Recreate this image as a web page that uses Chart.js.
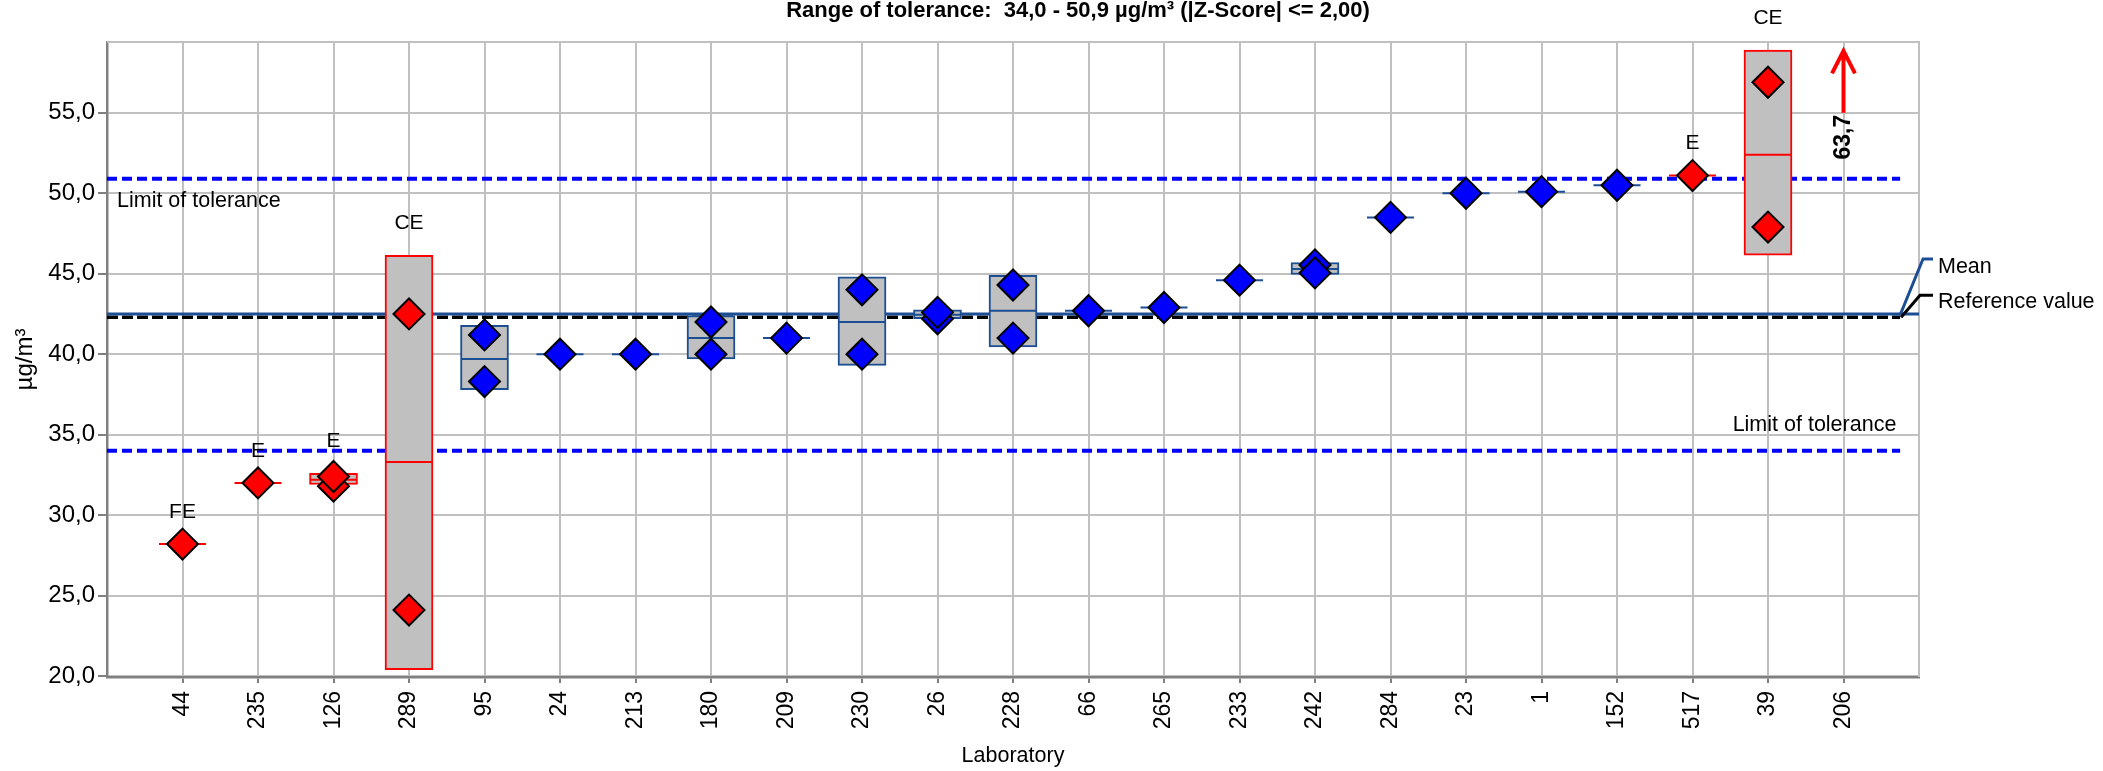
<!DOCTYPE html>
<html>
<head>
<meta charset="utf-8">
<title>Range of tolerance</title>
<script src="https://cdn.jsdelivr.net/npm/chart.js@4.4.1/dist/chart.umd.min.js"></script>
<style>
  html, body { margin: 0; padding: 0; background: #fff; }
  #wrap { width: 2103px; height: 771px; }
</style>
</head>
<body>
<div id="wrap"><canvas id="chart" width="2103" height="771"></canvas></div>
<script>
// --- data ---
const labs = ['44', '235', '126', '289', '95', '24', '213', '180', '209', '230', '26', '228',
              '66', '265', '233', '242', '284', '23', '1', '152', '517', '39', '206'];
// single results per lab (null = no second result)
const result1 = [28.2, 32.0, 31.8, 42.5, 41.2, 40.0, 40.0, 42.0, 41.0, 44.0, 42.2, 44.3,
                 42.7, 42.9, 44.6, 45.55, 48.5, 50.0, 50.1, 50.5, 51.1, 56.9, null];
const result2 = [null, null, 32.4, 24.1, 38.3, null, null, 40.0, null, 40.0, 42.6, 41.0,
                 null, null, null, 45.05, null, null, null, null, null, 47.9, null];
// lab mean and mean +/- sd box
const labMean = [28.2, 32.0, 32.2, 33.3, 39.7, 40.0, 40.0, 41.0, 41.0, 42.0, 42.45, 42.7,
                 42.7, 42.9, 44.6, 45.3, 48.5, 50.0, 50.1, 50.5, 51.1, 52.4, null];
const boxLow  = [null, null, 31.9, 20.4, 37.8, null, null, 39.7, null, 39.3, 42.2, 40.45,
                 null, null, null, 44.95, null, null, null, null, null, 46.15, null];
const boxHigh = [null, null, 32.6, 46.15, 41.8, null, null, 42.4, null, 44.8, 42.75, 44.9,
                 null, null, null, 45.7, null, null, null, null, null, 58.9, null];
const flags = ['FE', 'E', 'E', 'CE', '', '', '', '', '', '', '', '',
               '', '', '', '', '', '', '', '', 'E', 'CE', ''];
const outside = [true, true, true, true, false, false, false, false, false, false, false, false,
                 false, false, false, false, false, false, false, false, true, true, true];
// lab 206 is off the scale
const offScaleLab = '206';
const offScaleValue = 63.7;

const yTicks = [20, 25, 30, 35, 40, 45, 50, 55];
const meanValue = 42.5;
const referenceValue = 42.3;
const toleranceLow = 34.0;
const toleranceHigh = 50.9;

// --- styles ---
const FONT = "'Liberation Sans', Arial, sans-serif";
const RED = '#ff0000';
const BLUE = '#0000ff';
const DARKBLUE = '#1c4e94';
const GRID = '#c0c0c0';
const AXIS = '#808080';

Chart.defaults.font.family = FONT;
Chart.defaults.color = '#000';

// build datasets from the arrays
const diamonds = [], diamondFill = [];
labs.forEach((lab, i) => {
    [result1[i], result2[i]].forEach(v => {
        if (v != null) {
            diamonds.push({ x: i, y: v });
            diamondFill.push(outside[i] ? RED : BLUE);
        }
    });
});

const mids = [], midColor = [];
labs.forEach((lab, i) => {
    if (labMean[i] != null) {
        mids.push({ x: i, y: labMean[i] });
        midColor.push(outside[i] ? RED : DARKBLUE);
    }
});

const boxes = [], boxColor = [];
labs.forEach((lab, i) => {
    if (boxLow[i] != null) {
        boxes.push({ x: i, y: [boxLow[i], boxHigh[i]] });
        boxColor.push(outside[i] ? RED : DARKBLUE);
    }
});

function fmt(v) { return v.toFixed(1).replace('.', ','); }

// lines, labels, arrow and titles drawn on the canvas
const overlay = {
    id: 'overlay',
    beforeDatasetsDraw(chart) {
        const { ctx, chartArea: a, scales: { x, y } } = chart;
        ctx.save();
        // top and right border
        ctx.strokeStyle = GRID;
        ctx.lineWidth = 2;
        ctx.beginPath();
        ctx.moveTo(a.left, a.top);
        ctx.lineTo(a.right, a.top);
        ctx.lineTo(a.right, a.bottom);
        ctx.stroke();

        const xEnd = x.getPixelForValue(22.75);
        // tolerance limits
        ctx.strokeStyle = BLUE;
        ctx.lineWidth = 4;
        ctx.setLineDash([10, 5]);
        [toleranceLow, toleranceHigh].forEach(v => {
            const py = y.getPixelForValue(v);
            ctx.beginPath();
            ctx.moveTo(a.left, py);
            ctx.lineTo(xEnd, py);
            ctx.stroke();
        });
        // reference value
        ctx.strokeStyle = '#000';
        ctx.lineWidth = 3.5;
        ctx.setLineDash([11, 4]);
        const pr = y.getPixelForValue(referenceValue);
        ctx.beginPath();
        ctx.moveTo(a.left, pr);
        ctx.lineTo(xEnd, pr);
        ctx.stroke();
        // mean
        ctx.setLineDash([]);
        ctx.strokeStyle = DARKBLUE;
        ctx.lineWidth = 3;
        const pm = y.getPixelForValue(meanValue);
        ctx.beginPath();
        ctx.moveTo(a.left, pm);
        ctx.lineTo(a.right, pm);
        ctx.stroke();
        ctx.restore();
    },
    afterDatasetsDraw(chart) {
        const { ctx, chartArea: a, scales: { x, y } } = chart;
        ctx.save();
        ctx.fillStyle = '#000';

        // flag labels above each flagged lab
        ctx.font = '21px ' + FONT;
        ctx.textAlign = 'center';
        ctx.textBaseline = 'middle';
        labs.forEach((lab, i) => {
            if (!flags[i]) return;
            const top = Math.max(...[boxHigh[i], result1[i], result2[i]].filter(v => v != null));
            ctx.fillText(flags[i], x.getPixelForValue(i), y.getPixelForValue(top) - 32);
        });

        // tolerance labels
        ctx.font = '21.5px ' + FONT;
        ctx.textAlign = 'left';
        ctx.fillText('Limit of tolerance', a.left + 10, y.getPixelForValue(toleranceHigh) + 22);
        ctx.textAlign = 'right';
        ctx.fillText('Limit of tolerance', x.getPixelForValue(22.7), y.getPixelForValue(toleranceLow) - 26);

        // leaders for mean and reference value
        const xEnd = x.getPixelForValue(22.75);
        const pm = y.getPixelForValue(meanValue);
        const pr = y.getPixelForValue(referenceValue);
        ctx.lineWidth = 3;
        ctx.strokeStyle = DARKBLUE;
        ctx.beginPath();
        ctx.moveTo(xEnd, pm + 1);
        ctx.lineTo(a.right + 4, pm - 55);
        ctx.lineTo(a.right + 14, pm - 55);
        ctx.stroke();
        ctx.strokeStyle = '#000';
        ctx.beginPath();
        ctx.moveTo(xEnd + 1, pr);
        ctx.lineTo(a.right + 1, pr - 22);
        ctx.lineTo(a.right + 14, pr - 22);
        ctx.stroke();
        ctx.textAlign = 'left';
        ctx.fillText('Mean', a.right + 19, pm - 47);
        ctx.fillText('Reference value', a.right + 19, pr - 15);

        // off-scale arrow for lab 206
        const ia = labs.indexOf(offScaleLab);
        const px = x.getPixelForValue(ia);
        const pBase = y.getPixelForValue(55.0);
        const pTip = y.getPixelForValue(y.max - 0.55);
        ctx.strokeStyle = RED;
        ctx.lineWidth = 4;
        ctx.beginPath();
        ctx.moveTo(px, pBase);
        ctx.lineTo(px, pTip);
        ctx.moveTo(px - 11.5, pTip + 22.5);
        ctx.lineTo(px, pTip);
        ctx.lineTo(px + 11.5, pTip + 22.5);
        ctx.stroke();
        ctx.save();
        ctx.translate(px, pBase + 2);
        ctx.rotate(-Math.PI / 2);
        ctx.font = 'bold 23px ' + FONT;
        ctx.textAlign = 'right';
        ctx.fillText(fmt(offScaleValue), 0, 0);
        ctx.restore();

        // title
        ctx.font = 'bold 22px ' + FONT;
        ctx.textAlign = 'center';
        ctx.fillText('Range of tolerance:  ' + fmt(toleranceLow) + ' - ' + fmt(toleranceHigh) +
                     ' µg/m³ (|Z-Score| <= 2,00)', 1078, 11);

        // axis titles
        ctx.font = '21.5px ' + FONT;
        ctx.fillText('Laboratory', (a.left + a.right) / 2, 756);
        ctx.save();
        ctx.translate(25, (a.top + a.bottom) / 2);
        ctx.rotate(-Math.PI / 2);
        ctx.font = '24px ' + FONT;
        ctx.fillText('µg/m³', 0, 0);
        ctx.restore();

        ctx.restore();
    }
};

new Chart(document.getElementById('chart'), {
    type: 'scatter',
    data: {
        datasets: [
            {
                // individual results
                data: diamonds,
                pointStyle: 'rectRot',
                pointRadius: 15.5,
                backgroundColor: diamondFill,
                borderColor: '#000',
                borderWidth: 2,
                order: 1
            },
            {
                // lab mean line (also the mark for single results)
                data: mids,
                pointStyle: 'line',
                pointRadius: 23.5,
                borderColor: midColor,
                borderWidth: 2,
                order: 2
            },
            {
                // mean +/- sd box
                type: 'bar',
                data: boxes,
                backgroundColor: '#c0c0c0',
                borderColor: boxColor,
                borderWidth: 2,
                borderSkipped: false,
                barThickness: 48,
                order: 3
            }
        ]
    },
    options: {
        responsive: false,
        animation: false,
        devicePixelRatio: 1,
        events: [],
        layout: { padding: { left: 0, right: 184, top: 42, bottom: 0 } },
        plugins: {
            legend: { display: false },
            tooltip: { enabled: false }
        },
        scales: {
            x: {
                type: 'linear',
                min: -1,
                max: 23,
                offset: false,
                grid: { color: GRID, lineWidth: 2, tickColor: AXIS, tickLength: 6, offset: false },
                border: { color: AXIS, width: 2.5 },
                ticks: {
                    autoSkip: false,
                    minRotation: 90,
                    maxRotation: 90,
                    padding: 8,
                    font: { size: 23 },
                    callback: v => labs[v] ?? ''
                },
                afterBuildTicks: s => { s.ticks = labs.map((_, i) => ({ value: i })); },
                afterFit: s => { s.height = 94; }
            },
            y: {
                type: 'linear',
                min: 19.94,
                max: 59.4,
                beginAtZero: false,
                grid: { color: GRID, lineWidth: 2, tickColor: AXIS, tickLength: 9 },
                border: { color: AXIS, width: 2.5 },
                ticks: { padding: 3, font: { size: 24 }, callback: v => fmt(v) },
                afterBuildTicks: s => { s.ticks = yTicks.map(v => ({ value: v })); },
                afterFit: s => { s.width = 107; }
            }
        }
    },
    plugins: [overlay]
});
</script>
</body>
</html>
